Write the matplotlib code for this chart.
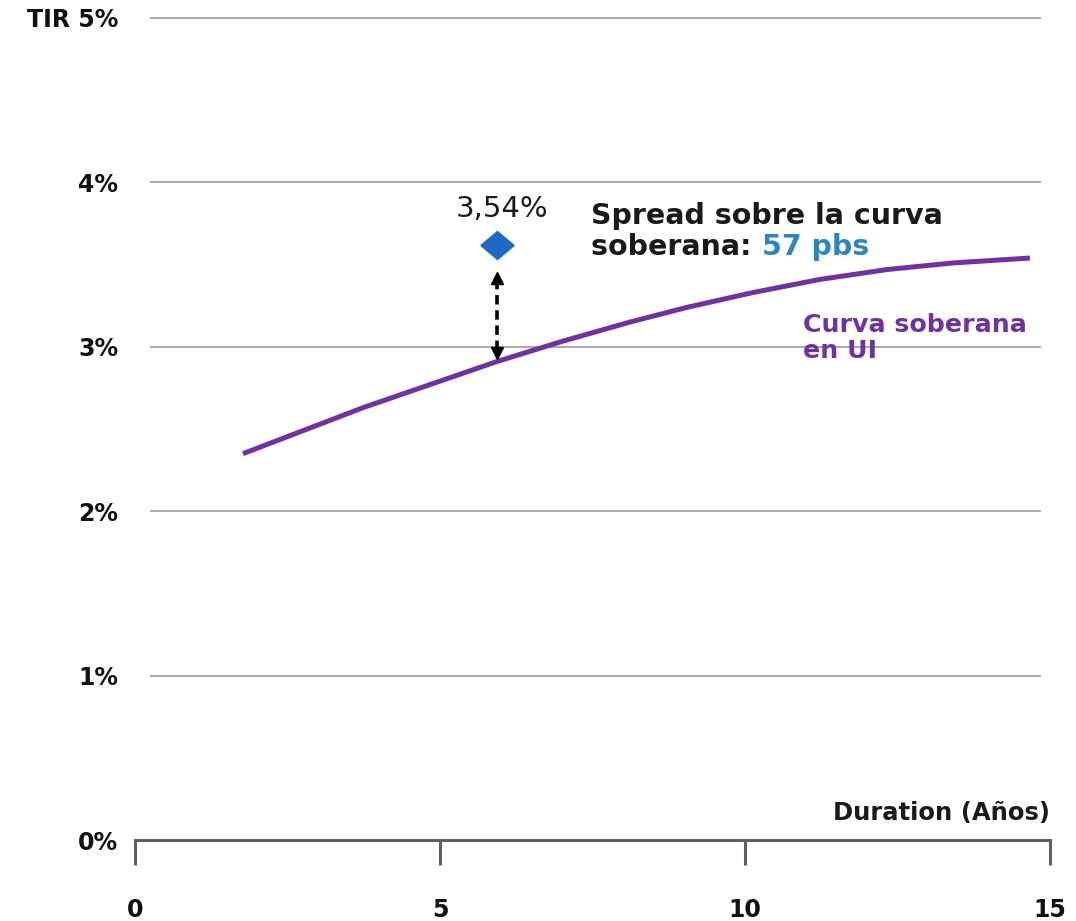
import matplotlib
matplotlib.use("Agg")
import matplotlib.pyplot as plt

# curva soberana en UI (duration en años, TIR en %)
curve_x = [1.77, 3.74, 5.93, 7.02, 8.11, 9.05, 10.13, 11.23, 12.33, 13.41, 14.67]
curve_y = [2.35, 2.63, 2.91, 3.035, 3.15, 3.24, 3.33, 3.41, 3.47, 3.51, 3.54]

# emision puntual
bond_x = [5.93]
bond_y = [3.62]
bond_label = "3,54%"
spread_label = "57 pbs"
arrow_y = [2.93, 3.45]

y_ticks = [0, 1, 2, 3, 4, 5]
y_labels = ["0%", "1%", "2%", "3%", "4%", "TIR 5%"]
x_ticks = [0, 5, 10, 15]
x_labels = ["0", "5", "10", "15"]

purple = "#6f32a1"
blue_mk = "#1f68c4"
blue_txt = "#2a86c0"
axis_gray = "#5f5f5f"

plt.rcParams["font.family"] = ["DejaVu Sans"]

fig = plt.figure(figsize=(10.76, 9.21), dpi=100)
ax = fig.add_axes([135 / 1076, 1 - 840 / 921, (1050 - 135) / 1076, (840 - 18) / 921])
ax.set_xlim(0, 15)
ax.set_ylim(0, 5)

for s in ["top", "right", "left"]:
    ax.spines[s].set_visible(False)
ax.spines["bottom"].set_color(axis_gray)
ax.spines["bottom"].set_linewidth(2.2)

# grid lines
ax.hlines(y_ticks[1:], 0.25, 14.85, color="#a3a3a3", lw=1.3, clip_on=False, zorder=1)

ax.set_yticks(y_ticks)
ax.set_yticklabels(y_labels, fontsize=17, fontweight="bold", color="#111111")
ax.tick_params(axis="y", length=0, pad=12)

ax.set_xticks(x_ticks)
ax.set_xticklabels(x_labels, fontsize=17, fontweight="bold", color="#111111")
ax.tick_params(axis="x", length=18, width=2.2, color=axis_gray, pad=24)

# curve
ax.plot(curve_x, curve_y, color=purple, lw=3.6, solid_capstyle="butt",
        solid_joinstyle="round", zorder=3)

# diamond
diamond = [(-1, 0), (0, 0.84), (1, 0), (0, -0.84), (-1, 0)]
ax.plot(bond_x, bond_y, marker=diamond, ms=24, color=blue_mk, ls="none", zorder=4)
ax.text(6.02, 3.79, bond_label, fontsize=21, ha="center", va="baseline", color="#1a1a1a")

# dashed double arrow
ax.plot([bond_x[0], bond_x[0]], [arrow_y[0] + 0.05, arrow_y[1] - 0.05],
        color="black", lw=2.6, ls=(0, (2.6, 1.6)), zorder=4)
ax.plot([bond_x[0]], [arrow_y[1] - 0.03], marker="^", ms=8, color="black", zorder=4)
ax.plot([bond_x[0]], [arrow_y[0] + 0.03], marker="v", ms=8, color="black", zorder=4)

# annotations
ax.text(7.48, 3.75, "Spread sobre la curva", fontsize=20.5, fontweight="bold",
        ha="left", va="baseline", color="#1a1a1a")
t2 = ax.text(7.48, 3.56, "soberana: ", fontsize=20.5, fontweight="bold",
             ha="left", va="baseline", color="#1a1a1a")
ax.annotate(spread_label, xy=(1, 0), xycoords=t2, fontsize=20.5, fontweight="bold",
            ha="left", va="bottom", color=blue_txt)

ax.text(10.95, 3.09, "Curva soberana", fontsize=18.2, fontweight="bold",
        ha="left", va="baseline", color=purple)
ax.text(10.95, 2.93, "en UI", fontsize=18.2, fontweight="bold",
        ha="left", va="baseline", color=purple)

ax.text(15.0, 0.12, "Duration (Años)", fontsize=17.5, fontweight="bold",
        ha="right", va="baseline", color="#1a1a1a")

fig.savefig("out.png", dpi=100)
